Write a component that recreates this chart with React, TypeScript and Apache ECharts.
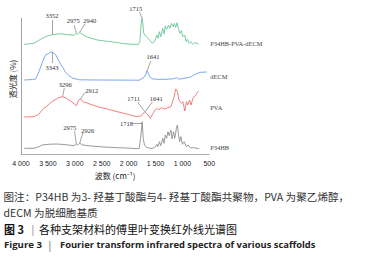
import { useEffect, useRef } from "react";
import * as echarts from "echarts";

// x axis ticks (wavenumber, cm-1)
const xTicks = [4000, 3500, 3000, 2500, 2000, 1500, 1000, 500];
const seriesNames = ["P34HB-PVA-dECM", "dECM", "PVA", "P34HB"];
const seriesColors = ["#6cc697", "#6d9eea", "#f07272", "#8e8e8e"];

// spectra, [wavenumber, offset transmittance]
const compositeSpectrum: [number, number][] = [
  [3940, 109.7], [3758, 110.7], [3637, 114.7], [3546, 117.3], [3426, 119.3], [3273, 120.3],
  [3122, 119.3], [3013, 118.7], [2972, 120.7], [2945, 119.6], [2910, 121.7], [2850, 119.3],
  [2759, 116.7], [2577, 114], [2396, 112.7], [2200, 111.3], [2032, 110], [1820, 109.6],
  [1791, 112.3], [1760, 134], [1747, 135.7], [1718, 120.7], [1687, 118], [1656, 116.7],
  [1609, 114], [1560, 110.7], [1518, 112.3], [1474, 119], [1451, 115.7], [1427, 122.3],
  [1402, 117.3], [1365, 125.7], [1342, 120], [1318, 128], [1293, 124.7], [1256, 129],
  [1233, 125.7], [1202, 130.7], [1173, 127.3], [1147, 130.7], [1124, 126.7], [1100, 131.3],
  [1075, 125.7], [1046, 120.7], [1020, 123.3], [991, 117.3], [960, 119], [929, 112.3],
  [906, 114.7], [875, 110.7], [846, 112.3], [809, 109.7], [773, 111.3], [729, 110.7], [700, 110],
];
const decmSpectrum: [number, number][] = [
  [3940, 74], [3789, 74.5], [3727, 75], [3667, 82.3], [3608, 91], [3546, 99], [3486, 100.5],
  [3455, 101.7], [3426, 102], [3390, 101], [3353, 99], [3273, 90.7], [3213, 85.7], [3182, 82.3],
  [3122, 79], [3062, 76.7], [3032, 75.7], [2910, 74.2], [2500, 74], [1800, 73.8], [1700, 77.3],
  [1656, 83.3], [1609, 77.3], [1547, 75], [1456, 74.7], [1305, 74.7], [1155, 75.3], [1111, 76.3],
  [1070, 75], [1033, 75], [911, 76.3], [851, 76.9], [791, 79], [729, 80.5], [669, 81.7], [548, 82],
];
const pvaSpectrum: [number, number][] = [
  [3940, 37], [3758, 37.3], [3667, 39.7], [3637, 42], [3577, 45.7], [3517, 48], [3426, 52.3],
  [3304, 56.3], [3231, 57.3], [3153, 55.7], [3062, 52.3], [2972, 48.3], [2928, 54], [2892, 55],
  [2850, 52.3], [2759, 50.7], [2577, 47.3], [2396, 45], [2214, 42.3], [2032, 40], [1850, 37.3],
  [1760, 38.3], [1729, 40.7], [1700, 42.3], [1669, 40.7], [1638, 39], [1596, 35.7], [1547, 40.7],
  [1505, 44], [1469, 45.7], [1438, 44], [1396, 46.3], [1336, 45], [1274, 46.3], [1214, 47.3],
  [1155, 57.3], [1124, 65], [1093, 62.3], [1064, 54], [1020, 50.7], [991, 52.3], [955, 43],
  [924, 52.3], [900, 49], [869, 54], [838, 49], [809, 55], [778, 57.3], [748, 59], [718, 61.7],
  [700, 63],
];
const p34hbSpectrum: [number, number][] = [
  [3940, 5.7], [3758, 5.7], [3667, 7.3], [3607, 9], [3486, 9.7], [3364, 10], [3244, 9.7],
  [3122, 9], [3013, 8.3], [2972, 10], [2946, 9], [2910, 10.7], [2850, 9], [2699, 8], [2456, 7],
  [2214, 6.3], [2032, 6], [1850, 5.3], [1801, 5.7], [1778, 15.7], [1747, 32.3], [1729, 15.7],
  [1705, 9], [1669, 6.7], [1609, 5.7], [1547, 5.7], [1500, 7.3], [1474, 9.7], [1456, 7.3],
  [1427, 12.3], [1402, 8.3], [1365, 15.7], [1342, 10.7], [1318, 19], [1293, 15.7], [1269, 22.3],
  [1245, 18.3], [1214, 24], [1191, 15], [1166, 22.3], [1142, 15.7], [1111, 25.7], [1093, 29],
  [1075, 20.7], [1051, 12.3], [1027, 17.3], [1002, 9.7], [966, 12.3], [929, 7.3], [893, 9],
  [857, 6.3], [791, 6.3], [729, 5.7], [688, 5.3],
];
const spectra = [compositeSpectrum, decmSpectrum, pvaSpectrum, p34hbSpectrum];

// peak annotations: series index, text, peak point, leader tip, text anchor (data coords)
const peakNotes: { s: number; text: string; peak: number[]; tip: number[]; at: number[] }[] = [
  { s: 0, text: "3352", peak: [3426, 119.5], tip: [3426, 134], at: [3426, 138.3] },
  { s: 0, text: "2975", peak: [2972, 121], tip: [3013, 129], at: [3030, 133.3] },
  { s: 0, text: "2940", peak: [2910, 121.7], tip: [2813, 130], at: [2723, 134] },
  { s: 0, text: "1715", peak: [1747, 135.5], tip: [1796, 142], at: [1869, 146] },
  { s: 1, text: "3343", peak: [3426, 102], tip: [3426, 91], at: [3426, 86.3] },
  { s: 1, text: "1641", peak: [1656, 83.3], tip: [1587, 93], at: [1547, 97.3] },
  { s: 2, text: "3296", peak: [3226, 57.3], tip: [3195, 66], at: [3177, 69.5] },
  { s: 2, text: "2912", peak: [2895, 55], tip: [2813, 61.5], at: [2686, 63.7] },
  { s: 2, text: "1711", peak: [1700, 42.5], tip: [1832, 52], at: [1905, 55.5] },
  { s: 2, text: "1641", peak: [1690, 42.5], tip: [1560, 52], at: [1487, 55.5] },
  { s: 3, text: "2975", peak: [2972, 10], tip: [3004, 23], at: [3094, 26.7] },
  { s: 3, text: "2926", peak: [2910, 10.7], tip: [2850, 21], at: [2759, 24] },
  { s: 3, text: "1718", peak: [1750, 31], tip: [1923, 31], at: [2041, 30.7] },
];
const nameAnchors = [110.3, 77.7, 46.7, 7];

const serif = "'Liberation Serif', 'DejaVu Serif', serif";
const cjk = "'Noto Sans CJK SC', 'Noto Sans', sans-serif";
const latinBold = "'Open Sans', Lato, sans-serif";

function fmtTick(v: number) {
  if (v >= 1000) return `${Math.floor(v / 1000)} ${String(v % 1000).padStart(3, "0")}`;
  return String(v);
}

export default function App() {
  const ref = useRef<HTMLDivElement>(null);
  useEffect(() => {
    if (!ref.current) return;
    const chart = echarts.init(ref.current, undefined, { renderer: "svg" });
    const series = spectra.map((data, i) => {
      const notes = peakNotes.filter((n) => n.s === i);
      const lines: any[] = notes.map((n) => [{ coord: n.peak }, { coord: n.tip }]);
      if (i === 3) lines.push([{ coord: [xTicks[0], 0] }, { coord: [xTicks[0], 136] }]);
      return {
        type: "line",
        name: seriesNames[i],
        data,
        symbol: "none",
        smooth: false,
        lineStyle: { color: seriesColors[i], width: 0.9 },
        itemStyle: { color: seriesColors[i] },
        markLine: {
          silent: true,
          symbol: ["none", "none"],
          label: { show: false },
          lineStyle: { color: "#666", width: 0.6, type: "solid" },
          emphasis: { disabled: true },
          data: lines,
        },
        markPoint: {
          silent: true,
          symbol: "circle",
          symbolSize: 0,
          data: [
            ...notes.map((n) => ({
              coord: n.at,
              label: {
                show: true,
                position: "inside",
                formatter: n.text,
                color: "#333",
                fontSize: 6.5,
                fontFamily: serif,
              },
            })),
            {
              coord: [xTicks[xTicks.length - 1], nameAnchors[i]],
              label: {
                show: true,
                position: "right",
                distance: 1,
                formatter: seriesNames[i],
                color: "#444",
                fontSize: 6.4,
                fontFamily: serif,
              },
            },
          ],
        },
      };
    });

    chart.setOption({
      animation: false,
      backgroundColor: "#fff",
      grid: { left: 16.7, top: 4, width: 192.6, height: 150 },
      xAxis: {
        type: "value",
        min: 500,
        max: 4000,
        interval: 500,
        inverse: true,
        axisLine: { show: true, lineStyle: { color: "#9a9a9a", width: 0.8 } },
        axisTick: { show: false },
        splitLine: { show: false },
        axisLabel: {
          formatter: fmtTick,
          color: "#1a1a2a",
          fontSize: 7,
          margin: 6,
          fontFamily: "'Liberation Sans', Arial, sans-serif",
        },
        name: "波数 (cm⁻¹)",
        nameLocation: "middle",
        nameGap: 17.5,
        nameTextStyle: { fontSize: 8, color: "#222", fontFamily: cjk },
      },
      yAxis: {
        type: "value",
        min: 0,
        max: 150,
        axisLine: { show: false },
        axisTick: { show: false },
        axisLabel: { show: false },
        splitLine: { show: false },
        name: "透光度 (%)",
        nameLocation: "middle",
        nameGap: 5,
        nameRotate: 90,
        nameTextStyle: { fontSize: 8, color: "#222", fontFamily: cjk },
      },
      series,
      graphic: [
        {
          type: "text",
          x: 3.5,
          y: 196.5,
          style: {
            text: "图注：P34HB 为3- 羟基丁酸酯与4- 羟基丁酸酯共聚物，PVA 为聚乙烯醇，",
            fontSize: 10.6,
            fontFamily: cjk,
            fill: "#333",
            verticalAlign: "middle",
          },
        },
        {
          type: "text",
          x: 3.5,
          y: 212,
          style: {
            text: "dECM 为脱细胞基质",
            fontSize: 10.6,
            fontFamily: cjk,
            fill: "#333",
            verticalAlign: "middle",
          },
        },
        {
          type: "text",
          x: 4,
          y: 228.5,
          style: {
            text: "图 3",
            fontSize: 11,
            fontWeight: "bold",
            fontFamily: cjk,
            fill: "#111",
            verticalAlign: "middle",
          },
        },
        {
          type: "text",
          x: 31.5,
          y: 228.5,
          style: { text: "|", fontSize: 10, fontFamily: cjk, fill: "#777", verticalAlign: "middle" },
        },
        {
          type: "text",
          x: 39,
          y: 228.5,
          style: {
            text: "各种支架材料的傅里叶变换红外线光谱图",
            fontSize: 11,
            fontFamily: cjk,
            fill: "#111",
            verticalAlign: "middle",
          },
        },
        {
          type: "text",
          x: 4,
          y: 244,
          style: {
            text: "Figure 3",
            fontSize: 9.6,
            fontWeight: "bold",
            fontFamily: latinBold,
            fill: "#222",
            verticalAlign: "middle",
          },
        },
        {
          type: "text",
          x: 48.5,
          y: 244,
          style: { text: "|", fontSize: 10, fontFamily: cjk, fill: "#555", verticalAlign: "middle" },
        },
        {
          type: "text",
          x: 60,
          y: 244,
          style: {
            text: "Fourier transform infrared spectra of various scaffolds",
            fontSize: 9.4,
            fontWeight: "bold",
            fontFamily: latinBold,
            fill: "#222",
            verticalAlign: "middle",
          },
        },
      ],
    });
    return () => chart.dispose();
  }, []);
  return (
    <div
      ref={ref}
      style={{ position: "fixed", left: 0, top: 0, width: 375, height: 258, background: "#fff" }}
    />
  );
}
